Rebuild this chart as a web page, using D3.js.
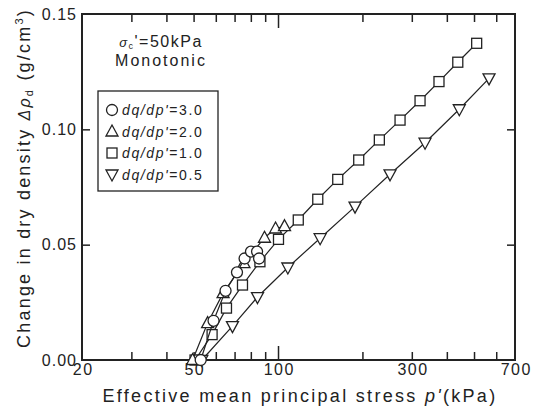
<!DOCTYPE html>
<html>
<head>
<meta charset="utf-8">
<script src="https://cdn.jsdelivr.net/npm/d3@7"></script>
<style>
  body { margin: 0; background: #fff; }
  svg text { font-family: "Liberation Sans", Arial, sans-serif; fill: #222; }
</style>
</head>
<body>
<svg id="chart" width="540" height="412"></svg>
<script>
// series: dq/dp' ratios
const seriesNames = ["dq/dp'=3.0", "dq/dp'=2.0", "dq/dp'=1.0", "dq/dp'=0.5"];

// p' (kPa) and change in dry density (g/cm3)
const pCircle = [53.0, 58.9, 65.0, 71.4, 76.0, 80.1, 84.2, 85.6];
const dCircle = [0.000, 0.017, 0.030, 0.038, 0.044, 0.047, 0.047, 0.044];

const pTriUp = [49.6, 56.1, 63.7, 75.6, 89.5, 98.0, 105.5];
const dTriUp = [0.000, 0.016, 0.029, 0.042, 0.053, 0.057, 0.058];

const pSquare = [50.6, 58.2, 65.5, 74.7, 86.2, 100.4, 118.1, 138.6, 163.3, 194, 229.8, 272.4, 321, 375, 437.6, 511];
const dSquare = [0.000, 0.011, 0.0225, 0.0325, 0.0426, 0.0523, 0.0607, 0.0697, 0.0783, 0.0867, 0.0954, 0.104, 0.1124, 0.1207, 0.1291, 0.1373];

const pTriDown = [53.5, 68.8, 84.5, 108.4, 141.3, 188.2, 250.9, 334.4, 443, 565.6];
const dTriDown = [0.000, 0.0147, 0.0273, 0.0401, 0.0528, 0.0665, 0.0805, 0.0942, 0.1087, 0.1221];

// ticks
const xLabelTicks = [20, 50, 100, 300, 700];
const xMinorTicks = [30, 40, 50, 60, 70, 80, 90, 200, 300, 400, 500, 600];
const xMajorTicks = [100];
const yTicks = [0, 0.05, 0.10, 0.15];

(function () {
  const left = 82, right = 515, top = 14, bottom = 360;

  const svg = d3.select("#chart");

  const x = d3.scaleLog().domain([20, 700]).range([left, right]);
  const y = d3.scaleLinear().domain([0, 0.15]).range([bottom, top]);

  const g = svg.append("g");

  // bottom ticks (inward)
  g.append("g")
    .attr("transform", `translate(0,${bottom})`)
    .call(d3.axisBottom(x).tickValues(xMinorTicks).tickSizeInner(-8).tickSizeOuter(0).tickFormat(""));
  g.append("g")
    .attr("transform", `translate(0,${bottom})`)
    .call(d3.axisBottom(x).tickValues(xMajorTicks).tickSizeInner(-14).tickSizeOuter(0).tickFormat(""));
  // top ticks (inward)
  g.append("g")
    .attr("transform", `translate(0,${top})`)
    .call(d3.axisTop(x).tickValues(xMinorTicks).tickSizeInner(-8).tickSizeOuter(0).tickFormat(""));
  g.append("g")
    .attr("transform", `translate(0,${top})`)
    .call(d3.axisTop(x).tickValues(xMajorTicks).tickSizeInner(-14).tickSizeOuter(0).tickFormat(""));
  // left / right ticks
  g.append("g")
    .attr("transform", `translate(${left},0)`)
    .call(d3.axisLeft(y).tickValues([0.05, 0.10]).tickSizeInner(-8).tickSizeOuter(0).tickFormat(""));
  g.append("g")
    .attr("transform", `translate(${right},0)`)
    .call(d3.axisRight(y).tickValues([0.05, 0.10]).tickSizeInner(-8).tickSizeOuter(0).tickFormat(""));

  g.selectAll(".domain").remove();
  g.selectAll(".tick line").attr("stroke", "#222").attr("stroke-width", 1.5);

  // x labels
  const xl = svg.append("g")
    .attr("transform", `translate(0,${bottom})`)
    .call(d3.axisBottom(x).tickValues(xLabelTicks).tickSize(0).tickPadding(4).tickFormat(d3.format("d")));
  xl.select(".domain").remove();
  xl.selectAll("text")
    .attr("dy", "0.71em")
    .style("font-size", "16px")
    .style("letter-spacing", "1.5px")
    .attr("dx", "0.75px");

  // y labels
  const yl = svg.append("g")
    .attr("transform", `translate(${left},0)`)
    .call(d3.axisLeft(y).tickValues(yTicks).tickSize(0).tickPadding(6).tickFormat(d3.format(".2f")));
  yl.select(".domain").remove();
  yl.selectAll("text")
    .style("font-size", "16px")
    .style("letter-spacing", "1px")
    .attr("dx", "1px");

  // frame
  svg.append("rect")
    .attr("x", left).attr("y", top)
    .attr("width", right - left).attr("height", bottom - top)
    .attr("fill", "none").attr("stroke", "#222").attr("stroke-width", 2);

  // markers
  const sym = {
    circle: sel => sel.append("circle").attr("r", 5.5),
    square: sel => sel.append("rect").attr("x", -5).attr("y", -5).attr("width", 10).attr("height", 10),
    triUp: sel => sel.append("path").attr("d", "M0,-6.5L6,4.5L-6,4.5Z"),
    triDown: sel => sel.append("path").attr("d", "M0,6.5L6,-4.5L-6,-4.5Z")
  };

  const series = [
    { p: pTriDown, d: dTriDown, shape: "triDown" },
    { p: pSquare, d: dSquare, shape: "square" },
    { p: pTriUp, d: dTriUp, shape: "triUp" },
    { p: pCircle, d: dCircle, shape: "circle" }
  ];

  const line = d3.line().x(d => x(d[0])).y(d => y(d[1]));

  series.forEach(s => {
    const pts = s.p.map((v, i) => [v, s.d[i]]);
    svg.append("path")
      .attr("d", line(pts))
      .attr("fill", "none")
      .attr("stroke", "#222")
      .attr("stroke-width", 1.2);
    svg.append("g").selectAll("g")
      .data(pts)
      .enter()
      .append("g")
      .attr("transform", d => `translate(${x(d[0])},${y(d[1])})`)
      .call(sym[s.shape])
      .selectAll("*")
      .attr("fill", "#fff")
      .attr("stroke", "#222")
      .attr("stroke-width", 1.3);
  });

  // annotation
  const ann = svg.append("text")
    .attr("x", 161).attr("y", 47)
    .attr("text-anchor", "middle")
    .style("font-size", "16px")
    .style("letter-spacing", "1.5px");
  ann.append("tspan").style("font-style", "italic").style("font-size", "13px").text("σ");
  ann.append("tspan").style("font-size", "9px").attr("dy", 1.5).text("c");
  ann.append("tspan").attr("dy", -1.5).text("'=50kPa");
  svg.append("text")
    .attr("x", 161).attr("y", 66)
    .attr("text-anchor", "middle")
    .style("font-size", "16px")
    .style("letter-spacing", "2px")
    .text("Monotonic");

  // legend
  const lg = svg.append("g");
  lg.append("rect")
    .attr("x", 98).attr("y", 91)
    .attr("width", 120).attr("height", 100)
    .attr("fill", "#fff").attr("stroke", "#222").attr("stroke-width", 1.3);
  const legendShapes = ["circle", "triUp", "square", "triDown"];
  seriesNames.forEach((name, i) => {
    const cy = 110 + i * 21.5;
    lg.append("g")
      .attr("transform", `translate(112,${cy})`)
      .call(sym[legendShapes[i]])
      .selectAll("*")
      .attr("fill", "#fff")
      .attr("stroke", "#222")
      .attr("stroke-width", 1.3);
    const t = lg.append("text")
      .attr("x", 122).attr("y", cy + 5)
      .style("font-size", "14px")
      .style("letter-spacing", "1.6px");
    const parts = name.split("=");
    t.append("tspan").style("font-style", "italic").text(parts[0]);
    t.append("tspan").text("=" + parts[1]);
  });

  // x title
  const xt = svg.append("text")
    .attr("x", 300).attr("y", 402)
    .attr("text-anchor", "middle")
    .style("font-size", "18px")
    .style("letter-spacing", "2.3px");
  xt.append("tspan").text("Effective mean principal stress ");
  xt.append("tspan").style("font-style", "italic").text("p'");
  xt.append("tspan").text("(kPa)");

  // y title
  const yt = svg.append("text")
    .attr("transform", "translate(30,178) rotate(-90)")
    .attr("text-anchor", "middle")
    .style("font-size", "18px")
    .style("letter-spacing", "2.2px");
  yt.append("tspan").text("Change in dry density ");
  yt.append("tspan").style("font-style", "italic").style("font-size", "16px").text("Δρ");
  yt.append("tspan").style("font-size", "11px").attr("dy", 3).text("d");
  yt.append("tspan").attr("dy", -3).text(" (g/cm");
  yt.append("tspan").style("font-size", "11px").attr("dy", -7).text("3");
  yt.append("tspan").attr("dy", 7).text(")");
})();
</script>
</body>
</html>
